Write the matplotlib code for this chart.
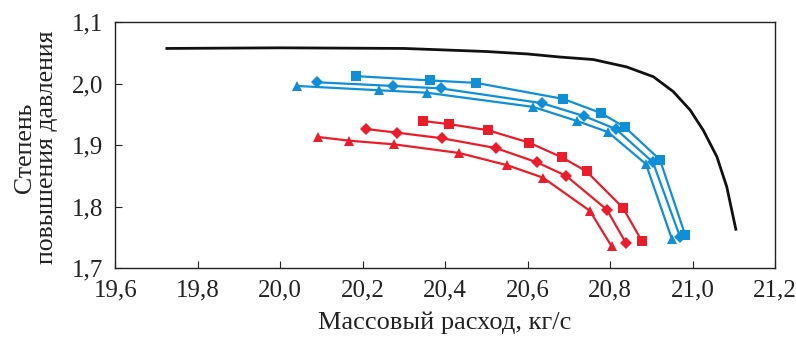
import matplotlib.pyplot as plt

plt.rcParams["font.family"] = ["Liberation Serif", "DejaVu Serif"]

BLUE = "#0f8fd8"
RED = "#ec1c2a"

# black line (no markers)
black_x = [19.725, 20.0, 20.3, 20.5, 20.6, 20.679, 20.759, 20.840, 20.905,
           20.953, 20.994, 21.026, 21.059, 21.083, 21.105]
black_y = [2.057, 2.058, 2.057, 2.052, 2.048, 2.043, 2.039, 2.027, 2.011,
           1.987, 1.957, 1.924, 1.881, 1.832, 1.763]

# blue series
blue_sq_x = [20.184, 20.363, 20.475, 20.686, 20.778, 20.836, 20.921, 20.982]
blue_sq_y = [2.012, 2.005, 2.001, 1.975, 1.952, 1.929, 1.876, 1.754]
blue_di_x = [20.089, 20.274, 20.390, 20.635, 20.737, 20.814, 20.904, 20.970]
blue_di_y = [2.002, 1.996, 1.992, 1.968, 1.947, 1.926, 1.872, 1.750]
blue_tr_x = [20.041, 20.240, 20.356, 20.613, 20.720, 20.795, 20.887, 20.950]
blue_tr_y = [1.996, 1.989, 1.985, 1.962, 1.939, 1.921, 1.869, 1.747]

# red series
red_sq_x = [20.346, 20.409, 20.504, 20.603, 20.683, 20.743, 20.831, 20.877]
red_sq_y = [1.939, 1.934, 1.924, 1.904, 1.880, 1.857, 1.798, 1.744]
red_di_x = [20.208, 20.284, 20.392, 20.523, 20.622, 20.693, 20.792, 20.839]
red_di_y = [1.926, 1.920, 1.911, 1.895, 1.872, 1.850, 1.795, 1.740]
red_tr_x = [20.092, 20.168, 20.277, 20.434, 20.551, 20.637, 20.751, 20.804]
red_tr_y = [1.913, 1.907, 1.901, 1.887, 1.867, 1.847, 1.793, 1.735]

x_ticks = [19.6, 19.8, 20.0, 20.2, 20.4, 20.6, 20.8, 21.0, 21.2]
x_tick_labels = ["19,6", "19,8", "20,0", "20,2", "20,4", "20,6", "20,8", "21,0", "21,2"]
y_ticks = [1.7, 1.8, 1.9, 2.0, 2.1]
y_tick_labels = ["1,7", "1,8", "1,9", "2,0", "1,1"]


def main():
    fig = plt.figure(figsize=(7.96, 3.38), dpi=100)
    ax = fig.add_axes([115.3 / 796, 1 - 268 / 338, (775 - 115.3) / 796, 246 / 338])

    ax.plot(black_x, black_y, color="#111111", lw=2.0)

    series = [
        (blue_sq_x, blue_sq_y, BLUE, "s", 6.5),
        (blue_di_x, blue_di_y, BLUE, "D", 6.0),
        (blue_tr_x, blue_tr_y, BLUE, "^", 7.5),
        (red_sq_x, red_sq_y, RED, "s", 6.5),
        (red_di_x, red_di_y, RED, "D", 6.0),
        (red_tr_x, red_tr_y, RED, "^", 7.5),
    ]
    for xs, ys, col, mk, ms in series:
        ax.plot(xs, ys, color=col, lw=1.6, marker=mk, markersize=ms,
                markeredgewidth=0)

    ax.set_xlim(19.6, 21.2)
    ax.set_ylim(1.7, 2.1)
    ax.set_xticks(x_ticks)
    ax.set_xticklabels(x_tick_labels)
    ax.set_yticks(y_ticks)
    ax.set_yticklabels(y_tick_labels)
    ax.tick_params(direction="in", length=5, width=0.8, labelsize=18,
                   colors="#222222")
    ax.tick_params(axis="x", pad=8)
    ax.tick_params(axis="y", pad=9)

    for sp in ax.spines.values():
        sp.set_linewidth(1.0)
        sp.set_color("#222222")

    ax.set_xlabel("Массовый расход, кг/с", fontsize=19, color="#222222")
    ax.xaxis.set_label_coords(0.5, -0.175)
    ax.set_ylabel("Степень\nповышения давления", fontsize=18.5, color="#222222",
                  linespacing=1.0)
    ax.yaxis.set_label_coords(-0.087, 0.49)

    fig.savefig("out.png", dpi=100)
    plt.close(fig)


if __name__ == "__main__":
    main()
